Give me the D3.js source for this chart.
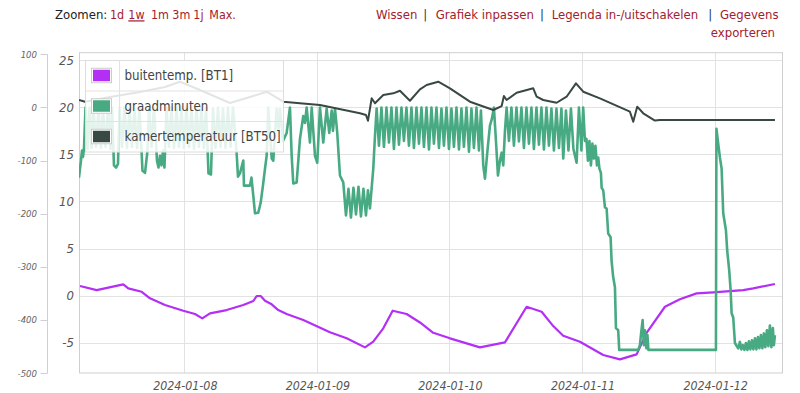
<!DOCTYPE html>
<html><head><meta charset="utf-8">
<script src="https://cdn.jsdelivr.net/npm/d3@7"></script>
<style>
body{margin:0;background:#fff;}
svg{display:block;font-family:"DejaVu Sans Condensed","Liberation Sans",sans-serif;}
</style></head><body>
<svg id="chart" width="800" height="393"></svg>
<script>
// ---------- data ----------
const startDate = new Date(2024, 0, 7, 0, 0, 0);   // hours below are counted from here
const xDomainHours = [4.94, 132.2];
const tempTicks = [-5, 0, 5, 10, 15, 20, 25];
const tempDomain = [-8.21, 25.78];
const gmTicks = [100, 0, -100, -200, -300, -400, -500];
const gmDomain = [-500, 100];
const seriesNames = ["buitentemp. [BT1]", "graadminuten", "kamertemperatuur [BT50]"];
const zoomLabel = "Zoomen:";
const zoomOptions = ["1d", "1w", "1m", "3m", "1j", "Max."];
const actionLinks = ["Wissen", "Grafiek inpassen", "Legenda in-/uitschakelen", "Gegevens", "exporteren"];

// [hours since 2024-01-07 00:00, °C]
const buitentemp = [
 [5.12,1.02],[8.14,0.59],[12.96,1.20],[13.86,0.77],[16.29,0.41],[17.79,-0.29],[20.51,-1.00],
 [23.82,-1.60],[25.94,-1.95],[27.26,-2.41],[28.65,-1.88],[31.67,-1.53],[34.68,-1.00],[36.49,-0.57],
 [37.10,-0.04],[37.83,-0.04],[38.61,-0.54],[39.82,-0.92],[41.01,-1.53],[42.53,-1.95],[45.54,-2.59],
 [50.37,-3.89],[53.39,-4.53],[56.71,-5.49],[58.21,-4.89],[60.02,-3.47],[61.72,-1.60],[64.25,-1.95],
 [66.66,-2.85],[69.07,-3.94],[72.09,-4.53],[77.52,-5.49],[82.05,-4.96],[85.97,-1.18],[88.69,-1.71],
 [90.79,-3.23],[92.60,-4.26],[95.62,-4.89],[99.84,-6.30],[102.86,-6.76],[105.88,-6.23],[107.69,-3.94],
 [111.01,-1.18],[113.72,-0.39],[116.74,0.24],[119.75,0.35],[125.18,0.59],[126.99,0.77],[130.92,1.23]
];

// [hours since 2024-01-07 00:00, graadminuten]
const graadminuten = [
 [4.94,-132],[5.12,-115],[5.30,-100],[5.48,-81],[5.66,-93],[5.84,-78],[6.12,0],[6.48,-78],[6.84,0],
 [7.20,-76],[7.56,0],[8.02,-74],[8.47,0],[8.92,-76],[9.28,-2],[9.74,-74],[10.19,0],[10.64,-78],
 [10.91,0],[11.27,-109],[11.64,-113],[12.00,-106],[12.27,0],[12.72,-74],[13.17,0],[13.63,-76],
 [14.08,0],[14.53,-74],[14.98,-2],[15.44,-76],[15.89,0],[16.43,-119],[16.89,-123],[17.34,-81],
 [17.61,0],[18.06,-74],[18.51,0],[19.06,-100],[19.33,-113],[19.60,-91],[19.87,-109],[20.14,-81],
 [20.41,-113],[20.78,0],[21.23,-74],[21.68,0],[22.13,-76],[22.59,0],[23.04,-74],[23.49,0],
 [23.94,-76],[24.40,0],[24.85,-74],[25.30,0],[25.75,-78],[26.21,0],[26.66,-74],[27.11,0],
 [27.56,-76],[27.93,0],[28.38,-124],[28.83,-126],[29.19,-2],[29.65,-76],[30.10,0],[30.55,-74],
 [31.00,-2],[31.46,-76],[31.91,0],[32.36,-74],[32.81,0],[33.45,-81],[33.72,-130],[34.08,-124],
 [34.68,-100],[34.80,-147],[35.89,-147],[36.16,-132],[36.49,-166],[36.80,-199],[37.39,-198],
 [37.83,-179],[38.24,-147],[38.61,-115],[38.91,-91],[39.20,0],[39.82,-96],[40.11,-100],[40.72,-2],
 [41.05,-44],[41.32,-2],[41.86,-63],[42.53,-48],[43.13,0],[43.44,-91],[43.73,-143],[44.34,-141],
 [44.94,-59],[45.54,-16],[45.85,-29],[46.15,0],[46.75,-66],[47.06,0],[47.66,-91],[48.07,-104],
 [48.56,0],[49.16,-66],[49.77,-2],[50.24,-48],[50.68,-6],[50.91,-44],[51.28,-2],[51.69,-48],
 [52.18,-128],[52.78,-141],[53.27,-203],[53.72,-153],[54.17,-207],[54.62,-151],[55.08,-201],
 [55.53,-149],[55.98,-205],[56.43,-153],[56.89,-203],[57.25,-156],[57.61,-190],[58.21,-115],
 [58.52,-53],[58.82,-2],[59.24,-72],[59.69,0],[60.14,-74],[60.60,0],[61.05,-66],[61.50,0],
 [61.95,-78],[62.41,0],[62.86,-70],[63.31,0],[63.76,-63],[64.22,0],[64.67,-72],[65.12,0],
 [65.57,-76],[66.03,0],[66.48,-68],[66.93,0],[67.38,-74],[67.84,0],[68.29,-79],[68.74,0],
 [69.19,-68],[69.65,0],[70.10,-76],[70.55,-2],[71.00,-72],[71.46,0],[71.91,-78],[72.36,-2],
 [72.81,-74],[73.27,0],[73.72,-79],[74.17,-2],[74.62,-74],[75.08,0],[75.53,-83],[75.98,-2],
 [76.43,-76],[76.89,0],[77.34,-81],[77.70,-6],[78.12,-109],[78.43,-134],[78.88,-81],[79.33,-34],
 [79.69,-21],[80.05,0],[80.42,-63],[80.78,-128],[81.14,-100],[81.45,-85],[81.74,-109],[82.05,-44],
 [82.35,0],[82.77,-63],[83.22,0],[83.67,-72],[84.13,0],[84.58,-64],[85.03,0],[85.48,-76],
 [85.94,0],[86.39,-68],[86.84,0],[87.29,-78],[87.75,0],[88.20,-70],[88.65,0],[89.10,-79],
 [89.56,0],[90.01,-72],[90.46,-2],[90.91,-81],[91.37,-2],[91.82,-76],[92.27,-2],[92.60,-96],
 [93.09,-6],[93.54,-81],[93.99,-2],[94.44,-78],[95.02,-104],[95.44,0],[95.89,-81],[96.21,0],
 [96.53,-63],[96.80,-59],[97.07,-100],[97.34,-63],[97.61,-109],[97.88,-68],[98.15,-96],[98.43,-72],
 [98.70,-109],[98.93,-94],[99.15,-115],[99.42,-123],[99.55,-151],[99.84,-156],[100.15,-188],
 [100.45,-190],[100.74,-237],[101.17,-244],[101.35,-288],[101.64,-319],[101.96,-338],[102.14,-415],
 [102.55,-419],[102.73,-456],[106.17,-456],[106.48,-447],[106.66,-428],[106.97,-400],[107.20,-447],
 [107.39,-419],[107.66,-453],[107.84,-428],[108.02,-456],[120.24,-456],[120.33,-40],[120.65,-68],
 [120.96,-94],[121.27,-115],[121.56,-199],[122.05,-231],[122.28,-269],[122.64,-306],[122.90,-344],
 [123.08,-387],[123.37,-395],[123.68,-443],[124.27,-453],[124.58,-441],[124.85,-455],[125.12,-447],
 [125.39,-456],[125.67,-443],[125.94,-456],[126.21,-440],[126.48,-455],[126.75,-438],[127.02,-455],
 [127.30,-434],[127.57,-455],[127.84,-432],[128.11,-453],[128.38,-428],[128.65,-453],[128.92,-425],
 [129.19,-451],[129.47,-419],[129.74,-449],[130.01,-410],[130.28,-451],[130.55,-415],[130.73,-447],
 [130.92,-428]
];

// [hours since 2024-01-07 00:00, °C]
const kamertemperatuur = [
 [4.94,20.76],[6.03,20.58],[10.55,21.08],[15.98,21.61],[20.51,22.14],[23.22,22.70],[26.84,21.82],
 [32.27,20.44],[35.89,21.08],[38.91,21.64],[41.92,20.58],[44.94,20.41],[48.56,20.23],[55.80,19.35],
 [56.89,19.17],[57.25,18.56],[57.92,20.94],[58.52,20.41],[60.02,21.29],[61.83,21.47],[63.04,21.74],
 [64.85,20.68],[66.66,21.89],[67.87,22.35],[69.97,22.70],[72.09,22.00],[75.71,20.58],[79.93,19.70],
 [81.45,20.12],[81.86,21.18],[82.35,20.76],[84.16,21.53],[87.17,22.00],[87.78,21.11],[88.98,20.76],
 [91.40,20.47],[93.21,21.11],[94.90,22.53],[96.22,21.64],[99.24,20.94],[104.67,19.52],[105.27,18.46],
 [105.99,20.05],[107.08,19.35],[109.20,18.58],[110.10,18.64],[130.92,18.64]
];

// ---------- styles ----------
const colors = {buiten: "#b42ff5", graad: "#48aa82", kamer: "#384842"};
const linkColor = "#a3202f";
const pipeColor = "#1c3555";
const L = 79, R = 782, T = 52.7, B = 373;

const svg = d3.select("#chart");
const toDate = h => new Date(startDate.getTime() + h * 3600000);

const x = d3.scaleTime().domain(xDomainHours.map(toDate)).range([L, R]);
const yT = d3.scaleLinear().domain(tempDomain).range([B, T]);
const yG = d3.scaleLinear().domain(gmDomain).range([373.3, 54.3]);

// header
const hdr = svg.append("g").attr("font-size", 13);
hdr.append("text").attr("x", 55).attr("y", 19.3).attr("fill", "#222").text(zoomLabel);
const zx = [110, 128.3, 151, 172.3, 193.3, 209.3];
zoomOptions.forEach((z, i) => {
  hdr.append("text").attr("x", zx[i]).attr("y", 19.3).attr("fill", linkColor).attr("font-size", 12.4)
    .attr("text-decoration", z === "1w" ? "underline" : null).text(z);
});
const ax = [376, 435.7, 551.7, 720];
[0, 1, 2, 3].forEach(i => {
  hdr.append("text").attr("x", ax[i]).attr("y", 19.3).attr("fill", linkColor).text(actionLinks[i]);
});
[423.3, 540, 708.3].forEach(px => {
  hdr.append("text").attr("x", px).attr("y", 19.3).attr("fill", pipeColor).text("|");
});
hdr.append("text").attr("x", 775).attr("y", 37).attr("text-anchor", "end").attr("fill", linkColor).text(actionLinks[4]);

// grid
const grid = svg.append("g");
tempTicks.forEach(t => {
  grid.append("line").attr("x1", L).attr("x2", R).attr("y1", Math.round(yT(t)) + 0.5).attr("y2", Math.round(yT(t)) + 0.5)
    .attr("stroke", "#e2e2e2");
});
const days = d3.timeDay.range(toDate(xDomainHours[0]), toDate(xDomainHours[1]));
const dayTicks = days.filter(d => d > toDate(xDomainHours[0]));
dayTicks.forEach(d => {
  grid.append("line").attr("x1", Math.round(x(d)) + 0.5).attr("x2", Math.round(x(d)) + 0.5).attr("y1", T).attr("y2", B)
    .attr("stroke", "#e2e2e2");
});
svg.append("rect").attr("x", L + 0.5).attr("y", T).attr("width", R - L).attr("height", B - T)
  .attr("fill", "none").attr("stroke", "#cfcfcf");

// right (temperature) labels
const tLab = svg.append("g").attr("font-size", 13).attr("font-style", "italic").attr("fill", "#555").attr("text-anchor", "end");
tempTicks.forEach(t => {
  tLab.append("text").attr("x", 74).attr("y", yT(t) + 4.5).text(t);
});
// left (graadminuten) axis
const gAx = svg.append("g");
gAx.append("line").attr("x1", 47.5).attr("x2", 47.5).attr("y1", yG(100)).attr("y2", yG(-500)).attr("stroke", "#d0d0d0");
gmTicks.forEach(g => {
  gAx.append("line").attr("x1", 40.5).attr("x2", 47.5).attr("y1", Math.round(yG(g)) + 0.5).attr("y2", Math.round(yG(g)) + 0.5).attr("stroke", "#d0d0d0");
  gAx.append("text").attr("x", 37).attr("y", yG(g) + 3.2).attr("text-anchor", "end")
    .attr("font-size", 9.5).attr("font-style", "italic").attr("fill", "#666").text(g);
});
// date labels
const fmt = d3.timeFormat("%Y-%m-%d");
dayTicks.forEach(d => {
  svg.append("text").attr("x", x(d) + 1).attr("y", 390).attr("text-anchor", "middle")
    .attr("font-size", 12.3).attr("font-style", "italic").attr("fill", "#555").text(fmt(d));
});

// series
svg.append("clipPath").attr("id", "clip").append("rect").attr("x", L).attr("y", T).attr("width", R - L).attr("height", B - T);
const plot = svg.append("g").attr("clip-path", "url(#clip)");
const lineT = d3.line().x(d => x(toDate(d[0]))).y(d => yT(d[1]));
const lineG = d3.line().x(d => x(toDate(d[0]))).y(d => yG(d[1]));
plot.append("path").datum(buitentemp).attr("d", lineT).attr("fill", "none").attr("stroke", colors.buiten).attr("stroke-width", 2.2).attr("stroke-linejoin", "round");
plot.append("path").datum(graadminuten).attr("d", lineG).attr("fill", "none").attr("stroke", colors.graad).attr("stroke-width", 2.6).attr("stroke-linejoin", "round");
plot.append("path").datum(kamertemperatuur).attr("d", lineT).attr("fill", "none").attr("stroke", colors.kamer).attr("stroke-width", 2).attr("stroke-linejoin", "round");

// legend
const lg = svg.append("g");
const lx = 85.5, ly = 60.5, lw = 198, rowH = 30.5;
lg.append("rect").attr("x", lx).attr("y", ly).attr("width", lw).attr("height", rowH * 3)
  .attr("fill", "rgba(255,255,255,0.86)").attr("stroke", "#dddddd");
[1, 2].forEach(i => lg.append("line").attr("x1", lx).attr("x2", lx + lw).attr("y1", ly + i * rowH).attr("y2", ly + i * rowH).attr("stroke", "#e2e2e2"));
lg.append("line").attr("x1", 119.5).attr("x2", 119.5).attr("y1", ly).attr("y2", ly + rowH * 3).attr("stroke", "#e2e2e2");
const lc = [colors.buiten, colors.graad, colors.kamer];
seriesNames.forEach((n, i) => {
  const cy = ly + i * rowH + rowH / 2;
  lg.append("rect").attr("x", 91.5).attr("y", cy - 7.5).attr("width", 20).attr("height", 14.5)
    .attr("fill", "#fff").attr("stroke", "#cccccc");
  lg.append("rect").attr("x", 93).attr("y", cy - 6).attr("width", 17).attr("height", 11.5).attr("fill", lc[i]);
  lg.append("text").attr("x", 124.5).attr("y", cy + 4.5).attr("font-size", 13.2).attr("fill", "#444").text(n);
});
</script>
</body></html>
